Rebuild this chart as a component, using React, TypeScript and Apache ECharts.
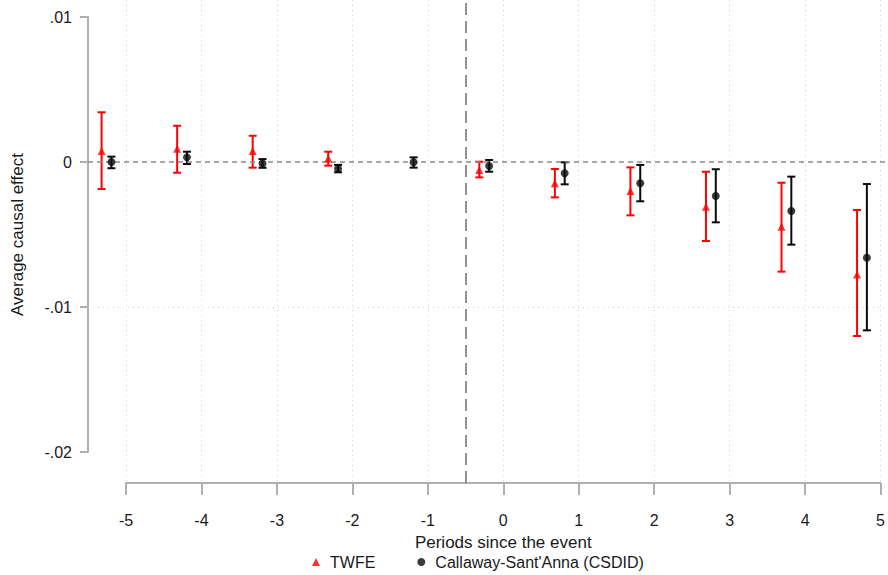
import React, { useEffect, useRef } from "react";
import * as echarts from "echarts";

// Event-study estimates: point estimate with 95% confidence bounds
const twfePeriods = [-5, -4, -3, -2, 0, 1, 2, 3, 4, 5];
const twfeEst = [0.00076, 0.00092, 0.00076, 0.00025, -0.00055, -0.00147, -0.002, -0.00308, -0.00446, -0.00775];
const twfeLo = [-0.00186, -0.00074, -0.00039, -0.00025, -0.00106, -0.00244, -0.00368, -0.00545, -0.00756, -0.012];
const twfeHi = [0.00343, 0.0025, 0.00181, 0.00071, 0.00002, -0.00048, -0.00037, -0.00067, -0.00143, -0.00331];

const csdidPeriods = [-5, -4, -3, -2, -1, 0, 1, 2, 3, 4, 5];
const csdidEst = [0.0, 0.00032, -0.0001, -0.00046, -0.00002, -0.00028, -0.00078, -0.00147, -0.00234, -0.00338, -0.0066];
const csdidLo = [-0.00043, -0.00014, -0.0004, -0.00071, -0.00039, -0.00067, -0.00154, -0.00271, -0.00416, -0.0057, -0.01161];
const csdidHi = [0.00037, 0.00071, 0.0002, -0.0002, 0.00032, 0.00014, -0.00002, -0.0002, -0.0005, -0.00101, -0.00152];

const xTicks = { min: -5, max: 5, step: 1 };
const yTicks = { min: -0.02, max: 0.01, step: 0.01 };
const eventLine = -0.5;
const zeroLine = 0;
const yGridLines = [-0.01];

const seriesNames = ["TWFE", "Callaway-Sant'Anna (CSDID)"];

// horizontal dodge so the two estimators sit side by side
const TWFE_SHIFT = -0.32;
const CSDID_SHIFT = -0.19;

const FONT = "'Liberation Sans', Arial, sans-serif";
const RED = "#ff0000";
const BLACK = "#0a0a0a";
const AXIS_GRAY = "#b0b0b0";
const TEXT = "#1a1a1a";

function errorBarSeries(name: string, xs: number[], lo: number[], hi: number[], color: string) {
  return {
    name: name + " CI",
    type: "custom",
    xAxisIndex: 1,
    yAxisIndex: 1,
    silent: true,
    clip: false,
    z: 3,
    encode: { x: 0, y: [1, 2] },
    data: xs.map((x, i) => [x, lo[i], hi[i]]),
    renderItem: (_params: any, api: any) => {
      const x = api.value(0);
      const top = api.coord([x, api.value(2)]);
      const bot = api.coord([x, api.value(1)]);
      const w = 4;
      const st = { stroke: color, lineWidth: 2 };
      return {
        type: "group",
        children: [
          { type: "line", shape: { x1: top[0], y1: top[1], x2: bot[0], y2: bot[1] }, style: st },
          { type: "line", shape: { x1: top[0] - w, y1: top[1], x2: top[0] + w, y2: top[1] }, style: st },
          { type: "line", shape: { x1: bot[0] - w, y1: bot[1], x2: bot[0] + w, y2: bot[1] }, style: st },
        ],
      };
    },
  };
}

function fmtY(v: number) {
  if (Math.abs(v) < 1e-12) return "0";
  const s = Math.abs(v).toFixed(2).replace(/^0/, "");
  return (v < 0 ? "-" : "") + s;
}

export default function App() {
  const ref = useRef<HTMLDivElement>(null);

  useEffect(() => {
    document.body.style.margin = "0";
    if (!ref.current) return;
    const chart = echarts.init(ref.current, undefined, { renderer: "svg" });

    const twfeX = twfePeriods.map((p) => p + TWFE_SHIFT);
    const csdidX = csdidPeriods.map((p) => p + CSDID_SHIFT);

    chart.setOption({
      animation: false,
      backgroundColor: "#ffffff",
      textStyle: { fontFamily: FONT },
      grid: [
        // frame for the period axis and vertical guides
        { left: 126, width: 755, top: 0, height: 483 },
        // frame for the effect axis and the estimates
        { left: 88, width: 797, top: 17, height: 435 },
      ],
      xAxis: [
        {
          gridIndex: 0,
          type: "value",
          min: xTicks.min,
          max: xTicks.max,
          interval: xTicks.step,
          name: "Periods since the event",
          nameLocation: "middle",
          nameGap: 51,
          nameTextStyle: { fontSize: 17, color: TEXT, fontFamily: FONT },
          axisLine: { show: true, onZero: false, lineStyle: { color: AXIS_GRAY, width: 2 } },
          axisTick: { show: true, length: 12, lineStyle: { color: AXIS_GRAY, width: 2 } },
          axisLabel: { fontSize: 16, color: TEXT, margin: 29, fontFamily: FONT },
          splitLine: { show: true, lineStyle: { color: "#cfcfcf", width: 1, type: [1, 4] } },
        },
        {
          gridIndex: 1,
          type: "value",
          min: -5.5,
          max: 5.05,
          show: false,
        },
      ],
      yAxis: [
        { gridIndex: 0, type: "value", min: 0, max: 1, show: false },
        {
          gridIndex: 1,
          type: "value",
          min: yTicks.min,
          max: yTicks.max,
          interval: yTicks.step,
          name: "Average causal effect",
          nameLocation: "middle",
          nameGap: 62,
          nameTextStyle: { fontSize: 17, color: TEXT, fontFamily: FONT },
          axisLine: { show: true, onZero: false, lineStyle: { color: AXIS_GRAY, width: 2 } },
          axisTick: { show: true, length: 8, lineStyle: { color: AXIS_GRAY, width: 2 } },
          axisLabel: { fontSize: 16, color: TEXT, margin: 16, fontFamily: FONT, formatter: fmtY },
          splitLine: { show: false },
        },
      ],
      legend: {
        data: [
          { name: seriesNames[0], icon: "triangle" },
          { name: seriesNames[1], icon: "circle" },
        ],
        top: 549,
        left: 307,
        itemWidth: 8,
        itemHeight: 8,
        itemGap: 42,
        textStyle: { fontSize: 16, color: TEXT, fontFamily: FONT, padding: [0, 0, 0, 5] },
      },
      series: [
        {
          name: "event",
          type: "line",
          xAxisIndex: 0,
          yAxisIndex: 0,
          data: [],
          silent: true,
          markLine: {
            silent: true,
            symbol: "none",
            label: { show: false },
            lineStyle: { color: "#6e6e6e", width: 1.5, type: [12, 6] },
            data: [{ xAxis: eventLine }],
          },
        },
        {
          name: "reference",
          type: "line",
          xAxisIndex: 1,
          yAxisIndex: 1,
          data: [],
          silent: true,
          markLine: {
            silent: true,
            symbol: "none",
            label: { show: false },
            data: [
              ...yGridLines.map((v) => ({
                yAxis: v,
                lineStyle: { color: "#cfcfcf", width: 1, type: [1, 4] },
              })),
              { yAxis: zeroLine, lineStyle: { color: "#8a8a8a", width: 1.5, type: [5, 4] } },
            ],
          },
        },
        errorBarSeries(seriesNames[0], twfeX, twfeLo, twfeHi, RED),
        errorBarSeries(seriesNames[1], csdidX, csdidLo, csdidHi, BLACK),
        {
          name: seriesNames[0],
          type: "scatter",
          xAxisIndex: 1,
          yAxisIndex: 1,
          symbol: "triangle",
          symbolSize: 8,
          itemStyle: { color: RED },
          clip: false,
          z: 5,
          data: twfeX.map((x, i) => [x, twfeEst[i]]),
        },
        {
          name: seriesNames[1],
          type: "scatter",
          xAxisIndex: 1,
          yAxisIndex: 1,
          symbol: "circle",
          symbolSize: 8,
          itemStyle: { color: BLACK },
          clip: false,
          z: 5,
          data: csdidX.map((x, i) => [x, csdidEst[i]]),
        },
      ],
    });

    return () => chart.dispose();
  }, []);

  return <div ref={ref} style={{ width: 888, height: 575 }} />;
}
